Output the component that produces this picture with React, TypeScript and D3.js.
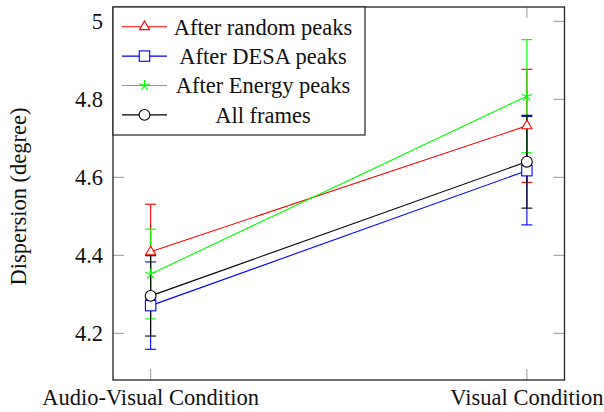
import React from "react";
import * as d3 from "d3";

const categories = ["Audio-Visual Condition", "Visual Condition"];
const yTicks = [4.2, 4.4, 4.6, 4.8, 5];

const randomVals = [4.409, 4.732];
const randomErr = [0.122, 0.145];
const desaVals = [4.271, 4.617];
const desaErr = [0.112, 0.139];
const energyVals = [4.352, 4.808];
const energyErr = [0.115, 0.145];
const allVals = [4.296, 4.64];
const allErr = [0.103, 0.119];

const seriesNames = ["After random peaks", "After DESA peaks", "After Energy peaks", "All frames"];
const seriesColors = ["#ff0000", "#0000ff", "#00ff00", "#000000"];
const seriesMarks = ["triangle", "square", "star", "circle"];

const series = [
  { name: seriesNames[0], vals: randomVals, err: randomErr, color: seriesColors[0], mark: seriesMarks[0] },
  { name: seriesNames[1], vals: desaVals, err: desaErr, color: seriesColors[1], mark: seriesMarks[1] },
  { name: seriesNames[2], vals: energyVals, err: energyErr, color: seriesColors[2], mark: seriesMarks[2] },
  { name: seriesNames[3], vals: allVals, err: allErr, color: seriesColors[3], mark: seriesMarks[3] },
];

const W = 604;
const H = 412;
const L = 113, R = 564.5, T = 7, B = 380;
const FONT = '"Liberation Serif"';
const FS = 22.5;

function Marker({ type, x, y, color }: { type: string; x: number; y: number; color: string }) {
  if (type === "triangle") {
    const r = 5.8;
    const pts = [0, 1, 2].map((i) => {
      const a = -Math.PI / 2 + (i * 2 * Math.PI) / 3;
      return [x + r * Math.cos(a), y + r * Math.sin(a)];
    });
    return <polygon points={pts.map((p) => p.join(",")).join(" ")} fill="white" stroke={color} strokeWidth={1.1} />;
  }
  if (type === "square") {
    const s = 5.2;
    return <rect x={x - s} y={y - s} width={2 * s} height={2 * s} fill="white" stroke={color} strokeWidth={1.1} />;
  }
  if (type === "circle") {
    return <circle cx={x} cy={y} r={5.4} fill="white" stroke={color} strokeWidth={1.1} />;
  }
  const r = 5.6;
  const spokes = [0, 1, 2, 3, 4].map((i) => {
    const a = -Math.PI / 2 + (i * 2 * Math.PI) / 5;
    return `M${x},${y}L${x + r * Math.cos(a)},${y + r * Math.sin(a)}`;
  });
  return <path d={spokes.join("")} stroke={color} strokeWidth={1.1} fill="none" />;
}

export default function App() {
  const xScale = d3.scaleLinear().domain([-0.1, 1.1]).range([L, R]);
  const yScale = d3.scaleLinear().domain([4.0803, 5.0367]).range([B, T]);
  const line = d3
    .line<number>()
    .x((_, i) => xScale(i))
    .y((d) => yScale(d));
  const tickLen = 11;
  const cap = 5.5;

  const legX = L, legY = T, legW = 252, legH = 128;
  const textStyle = { fontFamily: FONT };

  return (
    <svg width={W} height={H} style={{ position: "absolute", left: 0, top: 0, background: "white" }}>
      <rect x={0} y={0} width={W} height={H} fill="white" />
      {yTicks.map((t) => (
        <g key={"yt" + t} stroke="#999" strokeWidth={1}>
          <line x1={L} x2={L + tickLen} y1={yScale(t)} y2={yScale(t)} />
          <line x1={R} x2={R - tickLen} y1={yScale(t)} y2={yScale(t)} />
        </g>
      ))}
      {categories.map((c, i) => (
        <g key={"xt" + c} stroke="#999" strokeWidth={1}>
          <line x1={xScale(i)} x2={xScale(i)} y1={B} y2={B - tickLen} />
          <line x1={xScale(i)} x2={xScale(i)} y1={T} y2={T + tickLen} />
        </g>
      ))}
      {series.map((s) => (
        <g key={s.name}>
          <path d={line(s.vals) || ""} fill="none" stroke={s.color} strokeWidth={1.1} />
          {s.vals.map((v, i) => {
            const x = xScale(i);
            const y0 = yScale(v - s.err[i]);
            const y1 = yScale(v + s.err[i]);
            return (
              <g key={i} stroke={s.color} strokeWidth={1.1}>
                <line x1={x} x2={x} y1={y0} y2={y1} />
                <line x1={x - cap} x2={x + cap} y1={y0} y2={y0} />
                <line x1={x - cap} x2={x + cap} y1={y1} y2={y1} />
              </g>
            );
          })}
        </g>
      ))}
      {series.map((s) => (
        <g key={s.name + "m"}>
          {s.vals.map((v, i) => (
            <Marker key={i} type={s.mark} x={xScale(i)} y={yScale(v)} color={s.color} />
          ))}
        </g>
      ))}
      <rect x={L} y={T} width={R - L} height={B - T} fill="none" stroke="#222" strokeWidth={1.3} />
      {yTicks.map((t) => (
        <text key={"yl" + t} x={103} y={yScale(t)} dy="0.35em" textAnchor="end" fontSize={FS} fill="#111" style={textStyle}>
          {d3.format("")(t)}
        </text>
      ))}
      {categories.map((c, i) => (
        <text key={"xl" + c} x={xScale(i)} y={405} textAnchor="middle" fontSize={FS} fill="#111" style={textStyle}>
          {c}
        </text>
      ))}
      <text
        transform={`translate(18,${(T + B) / 2 + 3}) rotate(-90)`}
        dy="0.35em"
        textAnchor="middle"
        fontSize={FS}
        fill="#111"
        style={textStyle}
      >
        Dispersion (degree)
      </text>
      <rect x={legX} y={legY} width={legW} height={legH} fill="white" stroke="#222" strokeWidth={1.2} />
      {series.map((s, i) => {
        const y = 26.7 + i * 29.4;
        return (
          <g key={s.name + "leg"}>
            <line x1={122} x2={167} y1={y} y2={y} stroke={s.color} strokeWidth={1.1} />
            <Marker type={s.mark} x={144.5} y={y} color={s.color} />
            <text x={263} y={y} dy="0.35em" textAnchor="middle" fontSize={FS} fill="#111" style={textStyle}>
              {s.name}
            </text>
          </g>
        );
      })}
    </svg>
  );
}
